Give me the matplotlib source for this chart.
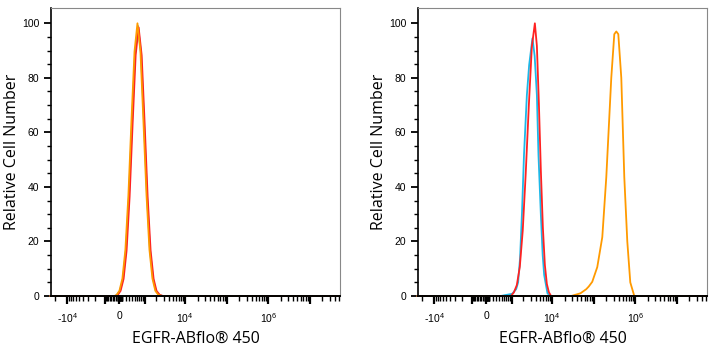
import numpy as np
import matplotlib; matplotlib.use("Agg")
import matplotlib.pyplot as plt
from matplotlib.ticker import FixedLocator, FixedFormatter

plt.rcParams['mathtext.fontset'] = 'custom'
plt.rcParams['mathtext.rm'] = 'Liberation Sans'
plt.rcParams['mathtext.it'] = 'Liberation Sans:italic'

# data (fluorescence intensity, relative cell number)
left_orange_x = [-25000, -300, -169, 9, 95, 183, 277, 379, 494, 618, 761, 923, 1117, 1333, 1589, 1880, 2226, 2700, 5.3e7]
left_orange_y = [0, 0, 0.3, 1.9, 6.4, 17, 37, 64, 89.6, 100, 89.6, 64, 37, 17, 6.4, 1.9, 0.46, 0, 0]
left_red_x = [-25000, -250, -94, 43, 130, 220, 317, 422, 541, 672, 824, 998, 1197, 1428, 1701, 2011, 2407, 2900, 5.3e7]
left_red_y = [0, 0, 0.3, 1.9, 6.3, 16.7, 36.4, 63, 88.3, 98.5, 88.3, 63, 36.4, 16.7, 6.3, 1.9, 0.45, 0, 0]
left_cyan_x = [-25000, -280, -140, 25, 112, 200, 296, 400, 516, 645, 790, 960, 1155, 1380, 1645, 1945, 2310, 2800, 5.3e7]
left_cyan_y = [0, 0, 0.3, 1.9, 6.3, 16.8, 36.6, 63.4, 88.7, 99, 88.7, 63.4, 36.6, 16.8, 6.3, 1.9, 0.45, 0, 0]

right_red_x = [-25000, 950, 1141, 1363, 1625, 1924, 2278, 2722, 3224, 3814, 4269, 4772, 5331, 5961, 6656, 7438, 8322, 9400, 5.3e7]
right_red_y = [0, 0, 1.3, 4, 10.7, 24, 44.8, 70, 91.5, 100, 91.7, 70.7, 45.8, 25, 11.4, 4.4, 1.4, 0, 0]
right_cyan_x = [-25000, 468, 695, 1029, 1309, 1472, 1650, 1848, 2066, 2435, 2768, 3334, 3771, 4269, 4666, 5331, 5895, 6405, 7690, 8944, 5.3e7]
right_cyan_y = [0, 0, 0.4, 0.8, 2.5, 5, 14, 31, 51.7, 73.7, 84.7, 94.5, 88, 73.7, 51.7, 29.7, 15, 7.7, 1, 0, 0]
right_orange_x = [-25000, 28700, 48000, 66000, 76000, 92000, 121500, 160500, 200300, 264000, 312000, 348500, 389400, 459700, 542700, 641000, 756600, 944000, 5.3e7]
right_orange_y = [0, 0, 1, 2.5, 3.5, 5.2, 10.6, 21.6, 43.6, 80, 96, 97, 96, 80, 43.6, 20, 5, 0, 0]

xlabel = 'EGFR-ABflo® 450'
ylabel = 'Relative Cell Number'
major_ticks = [-1e4, -1e3, 0, 1e3, 1e4, 1e5, 1e6, 1e7]
major_labels = ['-$10^{4}$', '', '0', '', '$10^{4}$', '', '$10^{6}$', '']

ORANGE = '#FF9A00'
RED = '#FF2222'
CYAN = '#1DB8E8'

LN10 = np.log(10)
def fwd(x):
    x = np.asarray(x, dtype=float)
    return np.where(x >= 0, np.arcsinh(x / 514.0), np.arcsinh(x / 1124.0)) / LN10
def inv(y):
    y = np.asarray(y, dtype=float)
    return np.where(y >= 0, 514.0 * np.sinh(y * LN10), 1124.0 * np.sinh(y * LN10))

minor = []
for n in range(1, 8):
    for k in range(2, 10):
        minor.append(k * 10 ** n)
for n in range(1, 4):
    for k in range(2, 10):
        minor.append(-k * 10 ** n)
minor += [-2e4]

fig = plt.figure(figsize=(7.19, 3.5), dpi=100)
ax1 = fig.add_axes([51 / 719, 1 - 296 / 350, 289 / 719, 288 / 350])
ax2 = fig.add_axes([418 / 719, 1 - 296 / 350, 289 / 719, 288 / 350])

def style(ax):
    ax.set_xscale('function', functions=(fwd, inv))
    ax.set_xlim(-24400, 5.3e7)
    ax.set_ylim(0, 105.6)
    ax.xaxis.set_major_locator(FixedLocator(major_ticks))
    ax.xaxis.set_major_formatter(FixedFormatter(major_labels))
    ax.xaxis.set_minor_locator(FixedLocator(minor))
    ax.set_yticks([0, 20, 40, 60, 80, 100])
    ax.set_yticks(np.arange(0, 105, 5), minor=True)
    ax.tick_params(axis='x', which='major', length=6, width=1.6, pad=5, labelsize=7.5)
    ax.tick_params(axis='x', which='minor', length=3.5, width=1.0)
    ax.tick_params(axis='y', which='major', length=5, width=1.3, labelsize=7.5)
    ax.tick_params(axis='y', which='minor', length=3, width=1.0)
    for lab in ax.get_xticklabels() + ax.get_yticklabels():
        lab.set_family('Liberation Sans')
    ax.spines['left'].set_color('black')
    ax.spines['bottom'].set_color('black')
    ax.spines['left'].set_linewidth(1.2)
    ax.spines['bottom'].set_linewidth(1.4)
    ax.spines['top'].set_color('#888888')
    ax.spines['right'].set_color('#888888')
    ax.spines['top'].set_linewidth(0.8)
    ax.spines['right'].set_linewidth(0.8)
    ax.set_xlabel(xlabel, fontsize=11.5, family='Open Sans', labelpad=4)
    ax.set_ylabel(ylabel, fontsize=11.5, family='Open Sans', labelpad=1)

ax1.plot(left_cyan_x, left_cyan_y, color=CYAN, lw=1.3, clip_on=False)
ax1.plot(left_red_x, left_red_y, color=RED, lw=1.3, clip_on=False)
ax1.plot(left_orange_x, left_orange_y, color=ORANGE, lw=1.3, clip_on=False)
style(ax1)

ax2.plot(right_cyan_x, right_cyan_y, color=CYAN, lw=1.3, clip_on=False)
ax2.plot(right_red_x, right_red_y, color=RED, lw=1.3, clip_on=False)
ax2.plot(right_orange_x, right_orange_y, color=ORANGE, lw=1.3, clip_on=False)
style(ax2)

fig.savefig('out.png', dpi=100)
